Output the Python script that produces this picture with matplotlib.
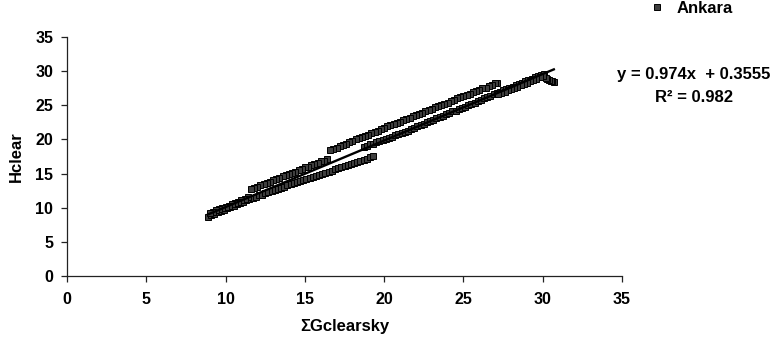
import matplotlib
matplotlib.use("Agg")
from matplotlib import pyplot as plt
import numpy as np

plt.rcParams['font.family'] = ['Liberation Sans', 'DejaVu Sans']
plt.rcParams['font.weight'] = 'bold'
plt.rcParams['font.size'] = 12

# spring half: low end -> short lower run -> middle run -> peak
rise_x = [8.9, 9.1, 9.3, 9.5, 9.7, 9.9, 10.1, 10.3, 10.5, 10.7, 10.9, 11.1, 11.3, 11.5, 11.7,
          11.9, 12.1, 12.3, 12.5, 12.7, 12.9, 13.1, 13.3, 13.5, 13.7, 13.9, 14.1, 14.3, 14.5,
          14.7, 14.9, 15.1, 15.3, 15.5, 15.7, 15.9, 16.1, 16.3, 16.5, 16.7, 16.9, 17.1, 17.3,
          17.5, 17.7, 17.9, 18.1, 18.3, 18.5, 18.7, 18.9, 19.1, 19.3,
          18.7, 18.9, 19.1, 19.3, 19.5, 19.7, 19.9, 20.1, 20.3, 20.5, 20.7, 20.9, 21.1, 21.3,
          21.5, 21.7, 21.9, 22.1, 22.3, 22.5, 22.7, 22.9, 23.1, 23.3, 23.5, 23.7, 23.9, 24.1,
          24.3, 24.5, 24.7, 24.9, 25.1, 25.3, 25.5, 25.7, 25.9, 26.1, 26.3, 26.5, 26.7, 26.9,
          27.1, 27.3, 27.5, 27.7, 27.9, 28.1, 28.3, 28.5, 28.7, 28.9, 29.1, 29.3, 29.5, 29.7,
          29.9, 30.1]
rise_y = [8.7, 8.9, 9.1, 9.3, 9.5, 9.7, 9.9, 10.1, 10.3, 10.5, 10.7, 10.9, 11.1, 11.3, 11.4,
          11.6, 11.8, 11.9, 12.1, 12.3, 12.4, 12.6, 12.8, 12.9, 13.1, 13.3, 13.4, 13.6, 13.7,
          13.9, 14.0, 14.2, 14.4, 14.5, 14.7, 14.8, 15.0, 15.1, 15.3, 15.4, 15.6, 15.8, 15.9,
          16.1, 16.2, 16.4, 16.6, 16.7, 16.9, 17.0, 17.2, 17.4, 17.6,
          18.9, 19.1, 19.3, 19.4, 19.6, 19.7, 19.9, 20.1, 20.2, 20.4, 20.6, 20.8, 21.0, 21.1,
          21.3, 21.5, 21.7, 21.9, 22.1, 22.3, 22.5, 22.7, 22.9, 23.1, 23.3, 23.5, 23.7, 23.9,
          24.1, 24.2, 24.4, 24.6, 24.8, 25.0, 25.2, 25.4, 25.6, 25.8, 26.0, 26.2, 26.4, 26.6,
          26.8, 27.0, 27.2, 27.4, 27.6, 27.7, 27.9, 28.1, 28.3, 28.5, 28.7, 28.9, 29.1, 29.3,
          29.5, 29.6]

# autumn half: peak cluster -> main band -> upper run (with step) -> low end
fall_x = [30.7, 30.6, 30.5, 30.4, 30.3, 30.2, 30.0, 29.8, 29.6, 29.4, 29.2, 29.0, 28.8, 28.6,
          28.4, 28.2, 28.0, 27.8, 27.6, 27.4, 27.2,
          27.1, 27.0, 26.8, 26.6, 26.4, 26.2, 26.0, 25.8, 25.6, 25.4, 25.2, 25.0, 24.8, 24.6,
          24.4, 24.2, 24.0, 23.8, 23.6, 23.4, 23.2, 23.0, 22.8, 22.6, 22.4, 22.2, 22.0, 21.8,
          21.6, 21.4, 21.2, 21.0, 20.8, 20.6, 20.4, 20.2, 20.0, 19.8, 19.6, 19.4, 19.2, 19.0,
          18.8, 18.6, 18.4, 18.2, 18.0, 17.8, 17.6, 17.4, 17.2, 17.0, 16.8, 16.6,
          16.4, 16.2, 16.0, 15.8, 15.6, 15.4, 15.2, 15.0, 14.8, 14.6, 14.4, 14.2, 14.0, 13.8,
          13.6, 13.4, 13.2, 13.0, 12.8, 12.6, 12.4, 12.2, 12.0, 11.8, 11.6,
          11.4, 11.2, 11.0, 10.8, 10.6, 10.4, 10.2, 10.0, 9.8, 9.6, 9.4, 9.2, 9.0]
fall_y = [28.4, 28.5, 28.6, 28.7, 28.8, 29.0, 29.3, 29.1, 28.9, 28.7, 28.5, 28.3, 28.1, 27.9,
          27.7, 27.5, 27.4, 27.2, 27.0, 26.8, 26.6,
          28.3, 28.2, 28.0, 27.8, 27.6, 27.5, 27.3, 27.1, 26.9, 26.7, 26.5, 26.4, 26.2, 26.0,
          25.8, 25.6, 25.4, 25.2, 25.1, 24.9, 24.7, 24.5, 24.3, 24.1, 23.9, 23.7, 23.6, 23.4,
          23.2, 23.0, 22.8, 22.6, 22.4, 22.2, 22.1, 21.9, 21.7, 21.5, 21.3, 21.1, 20.9, 20.7,
          20.5, 20.4, 20.2, 20.0, 19.8, 19.6, 19.4, 19.2, 19.0, 18.8, 18.6, 18.4,
          17.1, 16.9, 16.8, 16.6, 16.4, 16.2, 16.0, 15.9, 15.7, 15.5, 15.3, 15.1, 14.9, 14.8,
          14.6, 14.4, 14.2, 14.0, 13.8, 13.6, 13.5, 13.3, 13.1, 12.9, 12.7,
          11.5, 11.3, 11.1, 10.9, 10.7, 10.5, 10.3, 10.1, 10.0, 9.8, 9.6, 9.4, 9.2]

slope = 0.974
intercept = 0.3555
r2 = 0.982

x_all = np.array(rise_x + fall_x)
y_all = np.array(rise_y + fall_y)

fig = plt.figure(figsize=(7.72, 3.46), dpi=100)
ax = fig.add_axes([0.0868, 0.2023, 0.7189, 0.6908])

ax.plot(x_all, y_all, linestyle='none', marker='s', markersize=4,
        markerfacecolor='#3e3e3e', markeredgecolor='#000000', markeredgewidth=0.7,
        label='Ankara')

xl = np.array([x_all.min(), x_all.max()])
ax.plot(xl, slope * xl + intercept, color='black', linewidth=1.7)

ax.set_xlim(0, 35)
ax.set_ylim(0, 35)
ax.set_xticks(range(0, 36, 5))
ax.set_yticks(range(0, 36, 5))
for s in ['top', 'right']:
    ax.spines[s].set_visible(False)
for s in ['left', 'bottom']:
    ax.spines[s].set_color('#222222')
    ax.spines[s].set_linewidth(0.9)
ax.tick_params(direction='out', length=4, width=0.9, color='#222222', labelsize=11.5)
ax.tick_params(axis='x', pad=7.5)
ax.tick_params(axis='y', pad=6)

ax.set_xlabel('ΣGclearsky', fontweight='bold', labelpad=9)
ax.set_ylabel('Hclear', fontweight='bold', labelpad=8)

ax.legend(loc='center left', bbox_to_anchor=(0.8187, 0.976), bbox_transform=fig.transFigure,
          frameon=False, handlelength=1.2, handletextpad=0.6, markerscale=1.0,
          prop={'weight': 'bold', 'size': 12})

fig.text(0.898, 1 - 75 / 346, f'y = {slope}x  + {intercept}', ha='center', va='center',
         fontweight='bold')
fig.text(0.899, 1 - 97 / 346, f'R² = {r2}', ha='center', va='center', fontweight='bold')

fig.savefig('out.png', dpi=100)
